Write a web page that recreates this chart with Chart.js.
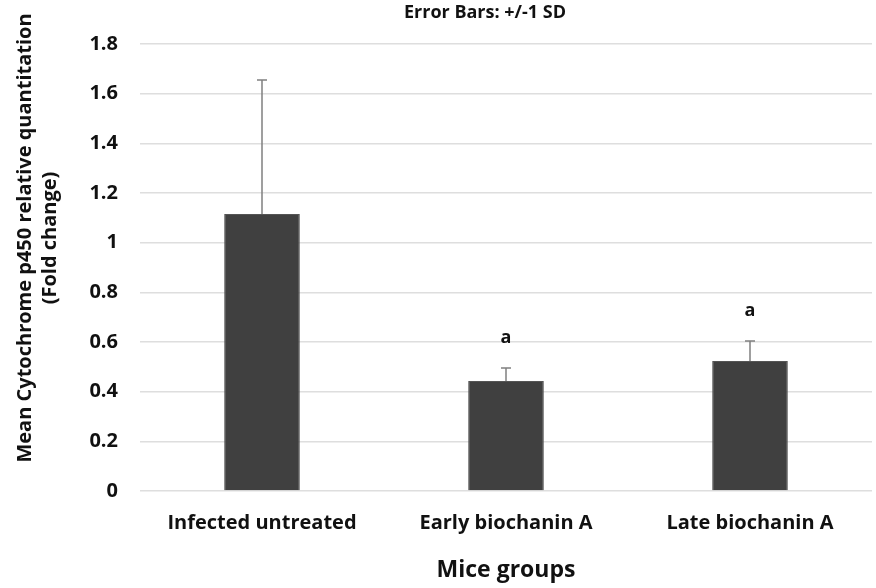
<!DOCTYPE html>
<html>
<head>
<meta charset="utf-8">
<script src="https://cdn.jsdelivr.net/npm/chart.js@4.4.0/dist/chart.umd.min.js"></script>
<style>
  html, body { margin: 0; padding: 0; background: #fff; }
  #wrap { width: 876px; height: 588px; }
</style>
</head>
<body>
<div id="wrap"><canvas id="barChart1"></canvas></div>
<script>
const groups = ["Infected untreated", "Early biochanin A", "Late biochanin A"];
const meanValues = [1.115, 0.443, 0.523];
const sdValues = [0.54, 0.052, 0.081];
const sigLabels = ["", "a", "a"];
const yTicks = [0, 0.2, 0.4, 0.6, 0.8, 1, 1.2, 1.4, 1.6, 1.8];

const fontName = "'Open Sans', sans-serif";
const chartcnt = document.getElementById("barChart1");

// error bars (+1 SD), significance letters, title, y title
const extrasPlugin = {
  id: "extras",
  afterDatasetsDraw(chart) {
    const ctx = chart.ctx;
    const y = chart.scales.y;
    const meta = chart.getDatasetMeta(0);
    ctx.save();
    meta.data.forEach((bar, i) => {
      const yTop = y.getPixelForValue(meanValues[i] + sdValues[i]);
      const yBase = y.getPixelForValue(meanValues[i]);
      ctx.strokeStyle = "#808080";
      ctx.lineWidth = 1.5;
      ctx.beginPath();
      ctx.moveTo(bar.x, yBase);
      ctx.lineTo(bar.x, yTop);
      ctx.moveTo(bar.x - 5, yTop);
      ctx.lineTo(bar.x + 5, yTop);
      ctx.stroke();
      if (sigLabels[i]) {
        ctx.fillStyle = "#111";
        ctx.font = "bold 18px " + fontName;
        ctx.textAlign = "center";
        ctx.textBaseline = "middle";
        ctx.fillText(sigLabels[i], bar.x, yTop - 30);
      }
    });

    ctx.fillStyle = "#111";
    ctx.textAlign = "center";
    ctx.textBaseline = "middle";
    ctx.font = "bold 18px " + fontName;
    ctx.fillText("Error Bars: +/-1 SD", 485, 13);

    ctx.font = "bold 20px " + fontName;
    ctx.save();
    ctx.translate(25, 238);
    ctx.rotate(-Math.PI / 2);
    ctx.fillText("Mean Cytochrome p450 relative quantitation", 0, 0);
    ctx.restore();
    ctx.save();
    ctx.translate(50, 238);
    ctx.rotate(-Math.PI / 2);
    ctx.fillText("(Fold change)", 0, 0);
    ctx.restore();
    ctx.restore();
  }
};

let barChart = new Chart(chartcnt, {
  type: "bar",
  data: {
    labels: groups,
    datasets: [
      {
        label: "Mean",
        data: meanValues,
        backgroundColor: "#404040",
        borderColor: "#555555",
        borderWidth: 1,
        categoryPercentage: 1,
        barPercentage: 0.31,
      },
    ],
  },
  options: {
    responsive: true,
    maintainAspectRatio: false,
    animation: false,
    layout: { padding: { top: 44, right: 4, left: 0, bottom: 0 } },
    plugins: {
      legend: { display: false },
      tooltip: { enabled: false },
    },
    scales: {
      y: {
        min: 0,
        max: 1.8,
        afterBuildTicks: (s) => { s.ticks = yTicks.map((v) => ({ value: v })); },
        afterFit: (s) => { s.width = 140; },
        ticks: {
          padding: 22,
          color: "#111",
          font: { family: fontName, size: 20, weight: "bold" },
          callback: (v) => String(parseFloat(Number(v).toFixed(1))),
        },
        grid: { color: "#dedede", lineWidth: 1.5, drawTicks: false },
        border: { display: false },
      },
      x: {
        afterFit: (s) => { s.height = 97; },
        ticks: {
          padding: 12,
          color: "#111",
          font: { family: fontName, size: 20, weight: "bold" },
        },
        title: {
          display: true,
          text: "Mice groups",
          color: "#111",
          padding: { top: 16 },
          font: { family: fontName, size: 23, weight: "bold" },
        },
        grid: { display: false },
        border: { display: false },
      },
    },
  },
  plugins: [extrasPlugin],
});
</script>
</body>
</html>
